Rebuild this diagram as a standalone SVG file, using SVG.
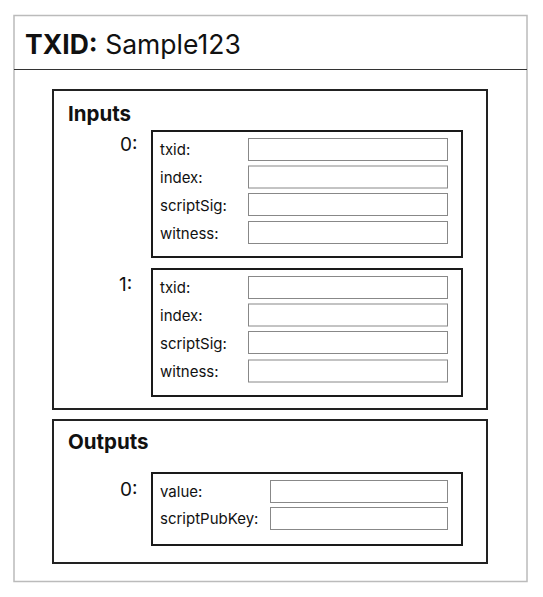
<svg xmlns="http://www.w3.org/2000/svg" width="543" height="597" viewBox="0 0 543 597">
  <style>
    text { font-family: Inter, "Open Sans", "Liberation Sans", sans-serif; fill: #111; }
    .title { font-size: 26.5px; }
    .section { font-size: 20.5px; font-weight: bold; }
    .idx { font-size: 19px; }
    .lbl { font-size: 15px; }
    .outer { fill: #fff; stroke: #bbb; stroke-width: 1.5; }
    .sep { stroke: #333; stroke-width: 1.2; }
    .group { fill: none; stroke: #222; stroke-width: 2; }
    .item { fill: #fff; stroke: #1a1a1a; stroke-width: 2; }
    .field { fill: #fff; stroke: #888; stroke-width: 1; }
  </style>

  <!-- transaction card -->
  <g id="tx">
    <rect class="outer" x="14" y="15.5" width="513" height="566"/>
    <line class="sep" x1="14" y1="69.5" x2="527" y2="69.5"/>
    <text class="title" x="25" y="54"><tspan font-weight="bold">TXID:</tspan> Sample123</text>
  </g>

  <!-- inputs section -->
  <g id="inputs">
    <rect class="group" x="53" y="90" width="434" height="319"/>
    <text class="section" x="68" y="121">Inputs</text>
  </g>

  <g id="input-0">
    <text class="idx" x="120" y="151">0:</text>
    <rect class="item" x="152" y="131" width="310" height="126"/>
    <text class="lbl" x="160" y="155">txid:</text>
    <text class="lbl" x="160" y="183">index:</text>
    <text class="lbl" x="160" y="211">scriptSig:</text>
    <text class="lbl" x="160" y="239">witness:</text>
    <rect class="field" x="248.5" y="138.5" width="199" height="22"/>
    <rect class="field" x="248.5" y="166" width="199" height="22"/>
    <rect class="field" x="248.5" y="193.5" width="199" height="22"/>
    <rect class="field" x="248.5" y="221.5" width="199" height="22"/>
  </g>

  <g id="input-1">
    <text class="idx" x="119" y="291">1:</text>
    <rect class="item" x="152" y="269" width="310" height="127"/>
    <text class="lbl" x="160" y="293">txid:</text>
    <text class="lbl" x="160" y="321">index:</text>
    <text class="lbl" x="160" y="349">scriptSig:</text>
    <text class="lbl" x="160" y="377">witness:</text>
    <rect class="field" x="248.5" y="276.5" width="199" height="22"/>
    <rect class="field" x="248.5" y="304" width="199" height="22"/>
    <rect class="field" x="248.5" y="331.5" width="199" height="22"/>
    <rect class="field" x="248.5" y="360" width="199" height="22"/>
  </g>

  <!-- outputs section -->
  <g id="outputs">
    <rect class="group" x="53" y="420" width="434" height="143"/>
    <text class="section" x="68" y="449">Outputs</text>
  </g>

  <g id="output-0">
    <text class="idx" x="120" y="496">0:</text>
    <rect class="item" x="152" y="473" width="310" height="72"/>
    <text class="lbl" x="160" y="497">value:</text>
    <text class="lbl" x="160" y="524">scriptPubKey:</text>
    <rect class="field" x="270.5" y="480.5" width="177" height="22"/>
    <rect class="field" x="270.5" y="507.5" width="177" height="22"/>
  </g>
</svg>
